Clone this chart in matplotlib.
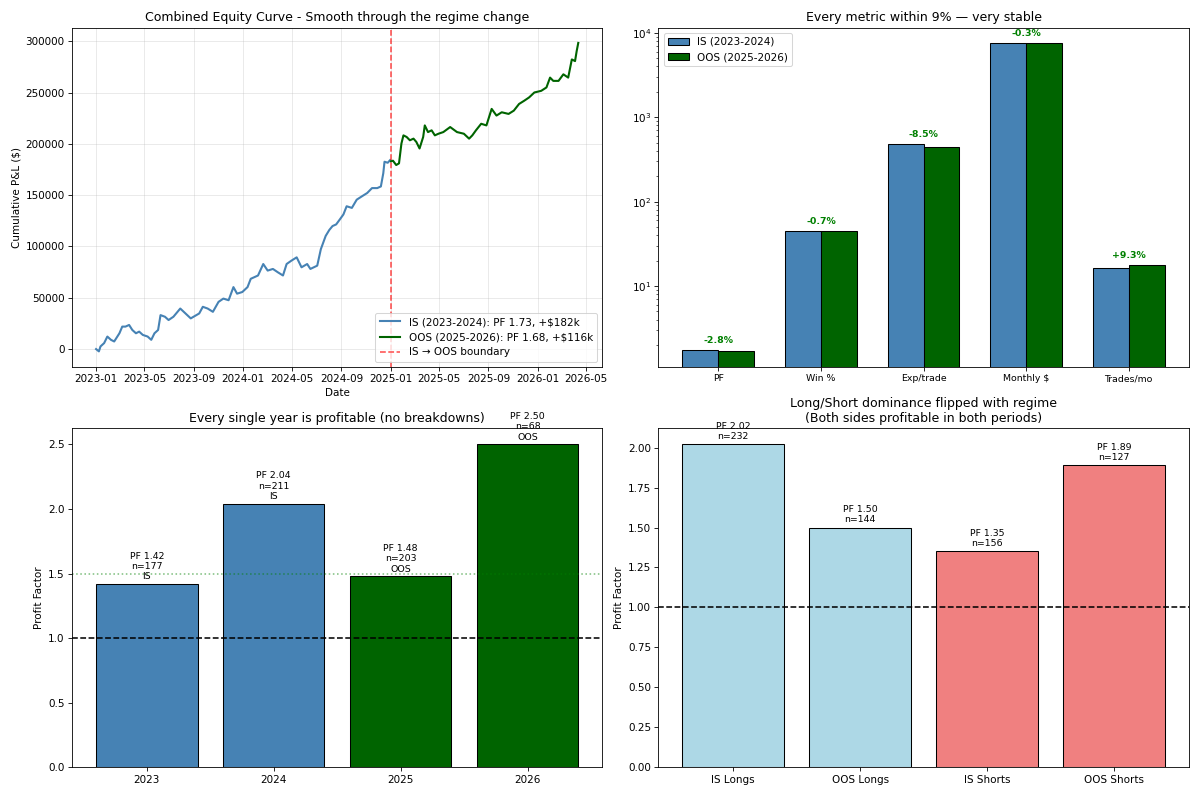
import numpy as np
import pandas as pd
import matplotlib
matplotlib.use('Agg')
import matplotlib.pyplot as plt
import matplotlib.dates as mdates

# equity curve
is_dates = ['2023-01-01', '2023-01-08', '2023-01-12', '2023-01-21', '2023-01-29', '2023-02-07',
            '2023-02-15', '2023-02-28', '2023-03-07', '2023-03-15', '2023-03-24', '2023-04-01',
            '2023-04-10', '2023-04-18', '2023-04-27', '2023-05-09', '2023-05-18', '2023-05-26',
            '2023-06-04', '2023-06-10', '2023-06-21', '2023-06-30', '2023-07-12', '2023-07-29',
            '2023-08-11', '2023-08-24', '2023-09-14', '2023-09-23', '2023-10-05', '2023-10-18',
            '2023-11-01', '2023-11-13', '2023-11-26', '2023-12-08', '2023-12-17', '2023-12-30',
            '2024-01-12', '2024-01-20', '2024-02-07', '2024-02-20', '2024-03-02', '2024-03-15',
            '2024-03-27', '2024-04-09', '2024-04-18', '2024-04-30', '2024-05-13', '2024-05-25',
            '2024-06-08', '2024-06-16', '2024-07-03', '2024-07-12', '2024-07-24', '2024-08-02',
            '2024-08-10', '2024-08-19', '2024-08-28', '2024-09-06', '2024-09-14', '2024-09-27',
            '2024-10-09', '2024-10-22', '2024-11-04', '2024-11-16', '2024-11-29', '2024-12-08',
            '2024-12-14', '2024-12-17', '2024-12-25', '2024-12-31']
is_pnl = [0, -2250, 2570, 5790, 12200, 9000,
          7400, 15400, 21900, 21900, 23500, 18600,
          15400, 17000, 13800, 12200, 9000, 15400,
          18600, 33100, 31500, 28300, 31500, 39500,
          34700, 29900, 34700, 41200, 39500, 36300,
          46000, 49200, 47600, 60400, 54000, 55600,
          60400, 68500, 71700, 82900, 76500, 78100,
          74900, 71700, 82900, 86200, 89400, 79700,
          82900, 78100, 81300, 97400, 110300, 116100,
          119900, 121500, 126300, 131200, 139200, 137600,
          145600, 148900, 152100, 156900, 156900, 158500,
          171400, 182600, 181600, 184200]

oos_dates = ['2025-01-02', '2025-01-07', '2025-01-15', '2025-01-22', '2025-01-28', '2025-02-02',
             '2025-02-10', '2025-02-18', '2025-02-27', '2025-03-06', '2025-03-14', '2025-03-23',
             '2025-03-27', '2025-04-04', '2025-04-13', '2025-04-21', '2025-04-30', '2025-05-12',
             '2025-05-29', '2025-06-15', '2025-07-02', '2025-07-15', '2025-07-23', '2025-08-01',
             '2025-08-14', '2025-08-27', '2025-09-09', '2025-09-21', '2025-10-04', '2025-10-21',
             '2025-11-03', '2025-11-16', '2025-11-29', '2025-12-11', '2025-12-24', '2026-01-10',
             '2026-01-23', '2026-02-01', '2026-02-09', '2026-02-22', '2026-03-06', '2026-03-18',
             '2026-03-27', '2026-04-04', '2026-04-08', '2026-04-12']
oos_pnl = [183000, 183600, 179400, 181000, 200300, 208300,
           206700, 203500, 205100, 201900, 195500, 206700,
           218000, 211500, 213200, 208300, 209900, 211500,
           216400, 211500, 209900, 205100, 208300, 213200,
           219600, 218000, 234100, 227600, 230800, 229200,
           232400, 238900, 242100, 245300, 250100, 251700,
           255000, 264600, 261400, 261400, 267800, 264600,
           282300, 280700, 290300, 298400]

# IS vs OOS metrics
metrics = ['PF', 'Win %', 'Exp/trade', 'Monthly $', 'Trades/mo']
is_metrics = [1.731, 44.8, 485, 7583, 16.17]
oos_metrics = [1.683, 44.5, 443.8, 7560, 17.68]

# yearly profit factor
years = ['2023', '2024', '2025', '2026']
year_pf = [1.42, 2.04, 1.48, 2.50]
year_n = [177, 211, 203, 68]
year_period = ['IS', 'IS', 'OOS', 'OOS']

# long/short split
sides = ['IS Longs', 'OOS Longs', 'IS Shorts', 'OOS Shorts']
side_pf = [2.02, 1.50, 1.35, 1.89]
side_n = [232, 144, 156, 127]

fig, axes = plt.subplots(2, 2, figsize=(16, 796 / 75), dpi=75)

# equity curve
ax = axes[0, 0]
ax.plot(pd.to_datetime(is_dates), is_pnl, color='steelblue', linewidth=2,
        label='IS (2023-2024): PF 1.73, +$182k')
ax.plot(pd.to_datetime(oos_dates), oos_pnl, color='darkgreen', linewidth=2,
        label='OOS (2025-2026): PF 1.68, +$116k')
ax.axvline(pd.Timestamp('2025-01-01'), color='red', linestyle='--', alpha=0.7,
           linewidth=1.5, label='IS → OOS boundary')
ax.xaxis.set_major_locator(mdates.MonthLocator(bymonth=[1, 5, 9]))
ax.xaxis.set_major_formatter(mdates.DateFormatter('%Y-%m'))
ax.set_xlabel('Date')
ax.set_ylabel('Cumulative P&L ($)')
ax.set_title('Combined Equity Curve - Smooth through the regime change')
ax.legend(loc='lower right')
ax.grid(True, alpha=0.3)

# metric comparison (log scale)
ax = axes[0, 1]
x = np.arange(len(metrics))
w = 0.35
ax.bar(x - w / 2, is_metrics, w, color='steelblue', edgecolor='black', label='IS (2023-2024)')
ax.bar(x + w / 2, oos_metrics, w, color='darkgreen', edgecolor='black', label='OOS (2025-2026)')
ax.set_yscale('log')
for i in range(len(metrics)):
    chg = (oos_metrics[i] - is_metrics[i]) / is_metrics[i] * 100
    top = max(is_metrics[i], oos_metrics[i])
    ax.text(x[i], top * 1.15, f'{chg:+.1f}%', ha='center', va='bottom',
            fontsize=9, fontweight='bold', color='green')
ax.set_xticks(x)
ax.set_xticklabels(metrics, fontsize=9)
ax.set_title('Every metric within 9% — very stable')
ax.legend(loc='upper left')

# yearly PF
ax = axes[1, 0]
colors = ['steelblue' if p == 'IS' else 'darkgreen' for p in year_period]
bars = ax.bar(years, year_pf, color=colors, edgecolor='black')
for b, pf, n, p in zip(bars, year_pf, year_n, year_period):
    ax.text(b.get_x() + b.get_width() / 2, pf + 0.02, f'PF {pf:.2f}\nn={n}\n{p}',
            ha='center', va='bottom', fontsize=9)
ax.axhline(1.0, color='black', linestyle='--', linewidth=1.5)
ax.axhline(1.5, color='green', linestyle=':', alpha=0.5)
ax.set_ylabel('Profit Factor')
ax.set_title('Every single year is profitable (no breakdowns)')

# long/short
ax = axes[1, 1]
colors = ['lightblue', 'lightblue', 'lightcoral', 'lightcoral']
bars = ax.bar(sides, side_pf, color=colors, edgecolor='black')
for b, pf, n in zip(bars, side_pf, side_n):
    ax.text(b.get_x() + b.get_width() / 2, pf + 0.02, f'PF {pf:.2f}\nn={n}',
            ha='center', va='bottom', fontsize=9)
ax.axhline(1.0, color='black', linestyle='--', linewidth=1.5)
ax.set_ylabel('Profit Factor')
ax.set_title('Long/Short dominance flipped with regime\n(Both sides profitable in both periods)')

plt.tight_layout()
plt.savefig('out.png', dpi=75)
